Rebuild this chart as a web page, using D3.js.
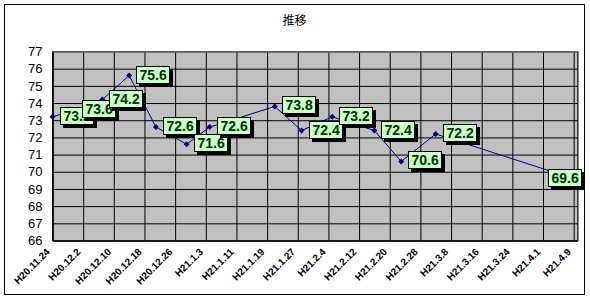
<!DOCTYPE html>
<html>
<head>
<meta charset="utf-8">
<script src="https://cdn.jsdelivr.net/npm/d3@7"></script>
<style>
  body { margin: 0; background: #fff; }
  svg { display: block; font-family: "Liberation Sans", Arial, sans-serif; }
</style>
</head>
<body>
<div id="chart"></div>
<script>
// données
const dates = ["2008-11-24", "2008-11-30", "2008-12-07", "2008-12-14", "2008-12-21", "2008-12-29", "2009-01-04",
               "2009-01-21", "2009-01-28", "2009-02-05", "2009-02-16", "2009-02-23", "2009-03-04", "2009-04-09"];
const values = [73.2, 73.6, 74.2, 75.6, 72.6, 71.6, 72.6, 73.8, 72.4, 73.2, 72.4, 70.6, 72.2, 69.6];

const tickDates = ["2008-11-24", "2008-12-02", "2008-12-10", "2008-12-18", "2008-12-26", "2009-01-03", "2009-01-11",
                   "2009-01-19", "2009-01-27", "2009-02-04", "2009-02-12", "2009-02-20", "2009-02-28", "2009-03-08",
                   "2009-03-16", "2009-03-24", "2009-04-01", "2009-04-09"];
const tickLabels = ["H20.11.24", "H20.12.2", "H20.12.10", "H20.12.18", "H20.12.26", "H21.1.3", "H21.1.11",
                    "H21.1.19", "H21.1.27", "H21.2.4", "H21.2.12", "H21.2.20", "H21.2.28", "H21.3.8",
                    "H21.3.16", "H21.3.24", "H21.4.1", "H21.4.9"];
const yTicks = [66, 67, 68, 69, 70, 71, 72, 73, 74, 75, 76, 77];
const title = "推移";

const parse = d3.utcParse("%Y-%m-%d");
const data = dates.map((d, i) => ({date: parse(d), value: values[i]}));
const ticks = tickDates.map(parse);

// dimensions
const width = 590;
const height = 300;
const plotLeft = 52.5, plotRight = 577.5, plotTop = 51.5, plotBottom = 240.5;

// échelles
const x = d3.scaleUtc([parse("2008-11-24"), parse("2009-04-10")], [plotLeft, plotRight]);
const y = d3.scaleLinear([66, 77], [plotBottom, plotTop]);

const svg = d3.create("svg")
    .attr("viewBox", [0, 0, width, height])
    .attr("width", width)
    .attr("height", height);

// on attache le SVG tout de suite pour pouvoir mesurer les textes
document.getElementById("chart").appendChild(svg.node());

// cadre du graphique
svg.append("rect")
    .attr("x", 4.5).attr("y", 4.5)
    .attr("width", 580).attr("height", 290)
    .attr("fill", "#fff")
    .attr("stroke", "#000");

svg.append("text")
    .attr("x", 294.5).attr("y", 25)
    .attr("text-anchor", "middle")
    .attr("font-size", 12)
    .attr("font-family", "'Noto Sans CJK JP', sans-serif")
    .text(title);

// zone de tracé
svg.append("rect")
    .attr("x", plotLeft).attr("y", plotTop)
    .attr("width", plotRight - plotLeft).attr("height", plotBottom - plotTop)
    .attr("fill", "#c0c0c0")
    .attr("stroke", "#808080");

// grille verticale
svg.append("g")
    .attr("transform", `translate(0,${plotBottom})`)
    .call(d3.axisBottom(x).tickValues(ticks).tickSize(-(plotBottom - plotTop)).tickFormat(""))
    .call(g => g.select(".domain").attr("stroke", "#000"))
    .call(g => g.selectAll(".tick line").attr("stroke", "#000"));

// grille horizontale + axe Y
svg.append("g")
    .attr("transform", `translate(${plotLeft},0)`)
    .call(d3.axisLeft(y).tickValues(yTicks).tickSize(-(plotRight - plotLeft)).tickPadding(10).tickFormat(d3.format("d")))
    .call(g => g.select(".domain").attr("stroke", "#000"))
    .call(g => g.selectAll(".tick line").attr("stroke", d => d === 77 ? "#808080" : "#000"))
    .call(g => g.selectAll(".tick text")
        .attr("font-size", 13)
        .attr("font-family", "'Liberation Sans', Arial, sans-serif")
        .attr("fill", "#000"));

// étiquettes de dates inclinées
svg.append("g")
    .selectAll("text")
    .data(ticks)
    .join("text")
      .attr("transform", d => `translate(${x(d) - 2},${plotBottom + 12}) rotate(-45)`)
      .attr("text-anchor", "end")
      .attr("font-size", 10)
      .attr("font-weight", "bold")
      .attr("fill", "#000")
      .text((d, i) => tickLabels[i]);

// ligne
const line = d3.line()
    .x(d => x(d.date))
    .y(d => y(d.value));

svg.append("path")
    .datum(data)
    .attr("fill", "none")
    .attr("stroke", "#000080")
    .attr("stroke-width", 1)
    .attr("d", line);

// marqueurs losange
svg.append("g")
    .selectAll("path")
    .data(data)
    .join("path")
      .attr("transform", d => `translate(${x(d.date)},${y(d.value)})`)
      .attr("d", "M0,-3L3,0L0,3L-3,0Z")
      .attr("fill", "#000080");

// étiquettes de données
const labels = svg.append("g")
    .selectAll("g")
    .data(data)
    .join("g");

labels.each(function(d) {
  const g = d3.select(this);
  const shadow = g.append("rect").attr("fill", "#000");
  const box = g.append("rect").attr("fill", "#ccffcc").attr("stroke", "#000");
  const t = g.append("text")
      .attr("font-size", 14)
      .attr("font-weight", "bold")
      .attr("fill", "#003300")
      .text(d.value.toFixed(1));
  const w = Math.round(t.node().getComputedTextLength()) + 6;
  const h = 17;
  let bx = Math.round(x(d.date) + 7);
  if (bx + w + 3 > 584) bx = Math.round(584 - 3 - w);
  const by = Math.round(y(d.value) - 10);
  shadow.attr("x", bx + 3).attr("y", by + 3).attr("width", w + 1).attr("height", h + 1);
  box.attr("x", bx + 0.5).attr("y", by + 0.5).attr("width", w).attr("height", h);
  t.attr("x", bx + 3.5).attr("y", by + 14);
});
</script>
</body>
</html>
